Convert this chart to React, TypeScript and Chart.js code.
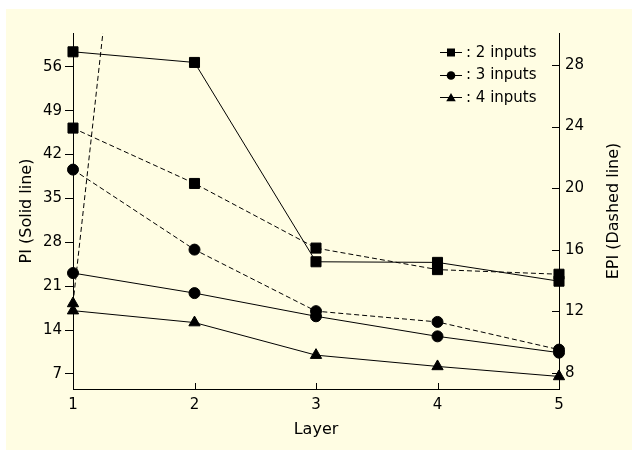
import React, { useEffect, useRef } from 'react';
import { Chart, registerables } from 'chart.js';

Chart.register(...registerables);

// ---- data ----
const layers = ['1', '2', '3', '4', '5'];
// PI (solid lines, left axis)
const pi2 = [58.4, 56.7, 24.9, 24.8, 21.8];
const pi3 = [23.1, 19.9, 16.2, 13.0, 10.4];
const pi4 = [17.1, 15.2, 10.0, 8.2, 6.6];
// EPI (dashed lines, right axis)
const epi2 = [23.9, 20.3, 16.1, 14.7, 14.4];
const epi3 = [21.2, 16.0, 12.0, 11.3, 9.5];
const epi4: (number | null)[] = [12.5, 84, null, null, null];
// tick labels
const piTicks = [7, 14, 21, 28, 35, 42, 49, 56];
const epiTicks = [8, 12, 16, 20, 24, 28];
const legendLabels = [': 2 inputs', ': 3 inputs', ': 4 inputs'];
const markerStyles = ['rect', 'circle', 'triangle'];

const FONT = '"DejaVu Sans", sans-serif';
const BG = '#FFFDE3';

function drawMarker(ctx: CanvasRenderingContext2D, style: string, x: number, y: number) {
  ctx.beginPath();
  if (style === 'rect') {
    ctx.rect(x - 4, y - 4, 8, 8);
  } else if (style === 'circle') {
    ctx.arc(x, y, 4.3, 0, Math.PI * 2);
  } else {
    const r = 5.5;
    for (let k = 0; k < 3; k++) {
      const a = (k * 2 * Math.PI) / 3;
      const px = x + Math.sin(a) * r;
      const py = y - Math.cos(a) * r + 1;
      if (k === 0) ctx.moveTo(px, py);
      else ctx.lineTo(px, py);
    }
    ctx.closePath();
  }
  ctx.fill();
}

const extrasPlugin = {
  id: 'extras',
  afterDraw(chart: any) {
    const { ctx, chartArea } = chart;
    const xs = chart.scales.x;
    const y1 = chart.scales.y1;
    ctx.save();
    ctx.strokeStyle = '#000';
    ctx.fillStyle = '#000';
    ctx.lineWidth = 1;
    // inward tick marks on the x axis
    xs.ticks.forEach((_t: any, i: number) => {
      const px = Math.round(xs.getPixelForTick(i)) + 0.5;
      ctx.beginPath();
      ctx.moveTo(px, chartArea.bottom);
      ctx.lineTo(px, chartArea.bottom - 6);
      ctx.stroke();
    });
    // inward tick marks on the right axis
    epiTicks.forEach((v) => {
      const py = Math.round(y1.getPixelForValue(v)) + 0.5;
      ctx.beginPath();
      ctx.moveTo(chartArea.right, py);
      ctx.lineTo(chartArea.right - 7, py);
      ctx.stroke();
    });
    // right axis title, reading bottom-to-top
    ctx.save();
    ctx.font = '16px ' + FONT;
    ctx.textAlign = 'center';
    ctx.textBaseline = 'middle';
    ctx.translate(y1.right - 18, (chartArea.top + chartArea.bottom) / 2);
    ctx.rotate(-Math.PI / 2);
    ctx.fillText('EPI (Dashed line)', 0, 0);
    ctx.restore();
    // legend
    ctx.font = '15px ' + FONT;
    ctx.textAlign = 'left';
    ctx.textBaseline = 'middle';
    legendLabels.forEach((label, i) => {
      const y = chartArea.top + 19 + i * 22.5;
      const x0 = chartArea.right - 119;
      const x1 = chartArea.right - 97;
      ctx.beginPath();
      ctx.moveTo(x0, Math.round(y) + 0.5);
      ctx.lineTo(x1, Math.round(y) + 0.5);
      ctx.stroke();
      drawMarker(ctx, markerStyles[i], (x0 + x1) / 2, Math.round(y) + 0.5);
      ctx.fillText(label, chartArea.right - 93, y + 1);
    });
    ctx.restore();
  },
};

function mk(label: string, data: (number | null)[], style: string, dashed: boolean, axis: string) {
  const radius = style === 'rect' ? 7.1 : style === 'circle' ? 5.5 : 6.5;
  return {
    label,
    data,
    yAxisID: axis,
    borderColor: '#000',
    backgroundColor: '#000',
    borderWidth: 1,
    borderDash: dashed ? [5, 3] : [],
    pointStyle: style,
    pointRadius: radius,
    pointBorderWidth: 1,
    pointBackgroundColor: '#000',
    pointBorderColor: '#000',
    tension: 0,
    fill: false,
    clip: { left: 12, right: 12, top: 0, bottom: 12 },
  };
}

export default function App() {
  const ref = useRef<HTMLCanvasElement | null>(null);
  useEffect(() => {
    if (!ref.current) return;
    Chart.defaults.color = '#000';
    const chart = new Chart(ref.current, {
      type: 'line',
      data: {
        labels: layers,
        datasets: [
          mk('PI 2 inputs', pi2, 'rect', false, 'y'),
          mk('PI 3 inputs', pi3, 'circle', false, 'y'),
          mk('PI 4 inputs', pi4, 'triangle', false, 'y'),
          mk('EPI 2 inputs', epi2, 'rect', true, 'y1'),
          mk('EPI 3 inputs', epi3, 'circle', true, 'y1'),
          mk('EPI 4 inputs', epi4, 'triangle', true, 'y1'),
        ] as any,
      },
      options: {
        responsive: false,
        animation: false,
        devicePixelRatio: 1,
        layout: { padding: { top: 24, left: 0, right: 0, bottom: 0 } },
        plugins: { legend: { display: false }, tooltip: { enabled: false } },
        scales: {
          x: {
            type: 'category',
            offset: false,
            grid: { display: false, drawTicks: false },
            border: { display: true, color: '#000', width: 1 },
            ticks: { font: { family: FONT, size: 15 }, color: '#000', padding: 7, maxRotation: 0 },
            title: {
              display: true,
              text: 'Layer',
              font: { family: FONT, size: 16 },
              color: '#000',
              padding: { top: 0, bottom: 10.4 },
            },
            afterFit: (s: any) => { s.height = 61; },
          },
          y: {
            type: 'linear',
            position: 'left',
            min: 4.6,
            max: 61.4,
            afterBuildTicks: (s: any) => { s.ticks = piTicks.map((v) => ({ value: v })); },
            grid: { display: true, drawOnChartArea: false, drawTicks: true, tickLength: 8, color: '#000' },
            border: { display: true, color: '#000', width: 1 },
            ticks: { font: { family: FONT, size: 15 }, color: '#000', padding: 3 },
            title: {
              display: true,
              text: 'PI (Solid line)',
              font: { family: FONT, size: 16 },
              color: '#000',
              padding: { top: 11.4, bottom: 0 },
            },
            afterFit: (s: any) => { s.width = 67; },
          },
          y1: {
            type: 'linear',
            position: 'right',
            min: 6.94,
            max: 30.08,
            afterBuildTicks: (s: any) => { s.ticks = epiTicks.map((v) => ({ value: v })); },
            grid: { display: false, drawTicks: false },
            border: { display: true, color: '#000', width: 1 },
            ticks: { font: { family: FONT, size: 15 }, color: '#000', padding: 6 },
            afterFit: (s: any) => { s.width = 73; },
          },
        },
      } as any,
      plugins: [extrasPlugin],
    });
    return () => chart.destroy();
  }, []);

  return (
    <div style={{ position: 'absolute', left: 6, top: 9, width: 626, height: 441, background: BG }}>
      <canvas ref={ref} width={626} height={441} style={{ display: 'block' }} />
    </div>
  );
}
